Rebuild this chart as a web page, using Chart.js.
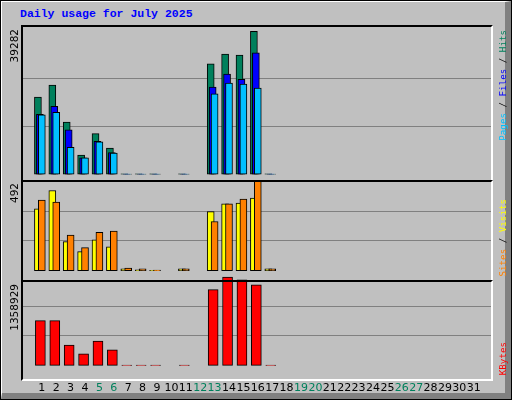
<!DOCTYPE html>
<html lang="en">
<head>
  <meta charset="UTF-8" />
  <title>Daily usage for July 2025</title>
  <script src="https://cdn.jsdelivr.net/npm/chart.js"></script>
  <style>
    * { box-sizing: border-box; }
    body { margin: 0; padding: 0; background: #c0c0c0; }
    .frame {
      position: absolute; left: 0; top: 0; width: 512px; height: 400px;
      border: 1px solid #000; background: #c0c0c0; overflow: hidden;
    }
    .bevel {
      position: absolute; left: 0; top: 0; width: 510px; height: 398px;
      border-top: 1px solid #fff; border-left: 1px solid #fff;
      border-right: 6px solid #808080; border-bottom: 6px solid #808080;
    }
    .title {
      position: absolute; left: 19px; top: 6px; color: #0000ff;
      font: bold 11.5px 'Liberation Mono', 'DejaVu Sans Mono', monospace;
    }
    .panel {
      position: absolute; left: 20px; width: 472px;
      border-top: 2px solid #000; border-left: 2px solid #000;
      border-right: 2px solid #fff; border-bottom: 2px solid #fff;
      pointer-events: none;
    }
    .vt {
      position: absolute; writing-mode: vertical-rl; transform: rotate(180deg);
      white-space: nowrap;
    }
    .ylab { font: 10.5px 'DejaVu Sans', sans-serif; color: #000; left: 7px; }
    .leg { font: 9.2px 'DejaVu Sans Mono', monospace; left: 496px; }
    #wrap { position: absolute; left: 21px; top: 26px; width: 470px; height: 374px; }
  </style>
</head>
<body>
  <div class="frame">
    <div class="bevel"></div>
    <div class="title">Daily usage for July 2025</div>
    <div id="wrap"><canvas id="grafico" width="470" height="374"></canvas></div>
    <div class="panel" style="top:24px;height:157px"></div>
    <div class="panel" style="top:179px;height:102px"></div>
    <div class="panel" style="top:279px;height:101px"></div>

    <div class="vt ylab" id="lab1" style="top:28px"></div>
    <div class="vt ylab" id="lab2" style="top:182px"></div>
    <div class="vt ylab" id="lab3" style="top:283px"></div>

    <div class="vt leg" style="top:29px"><span style="color:#00c0ff">Pages</span> / <span style="color:#0000ff">Files</span> / <span style="color:#00805c">Hits</span></div>
    <div class="vt leg" style="top:198px"><span style="color:#ff8000">Sites</span> / <span style="color:#ffff00">Visits</span></div>
    <div class="vt leg" style="top:341px"><span style="color:#ff0000">KBytes</span></div>
  </div>

  <script>
    const dias = [];
    for (let d = 1; d <= 31; d++) dias.push(d);
    const fimDeSemana = [5, 6, 12, 13, 19, 20, 26, 27];

    // valores (dias 1..17, resto sem dados)
    const hits   = [21190, 24500, 14350, 5260, 11140, 7130, 40, 40, 40, 0, 40, 0, 30380, 33050, 32790, 39282, 40];
    const files  = [16480, 18620, 12210, 4500, 9000, 5900, 30, 30, 30, 0, 30, 0, 23960, 27520, 26100, 33400, 30];
    const pages  = [16300, 17020, 7400, 4460, 8900, 5800, 30, 30, 30, 0, 30, 0, 22100, 25030, 24770, 23700, 30];
    const visits = [341, 442, 160, 105, 170, 132, 10, 5, 2, 0, 10, 0, 325, 368, 373, 400, 10];
    const sites  = [389, 378, 196, 127, 212, 218, 14, 10, 3, 0, 10, 0, 271, 368, 394, 492, 10];
    const kbytes = [687000, 687000, 313600, 179200, 373300, 239000, 3000, 3000, 3000, 0, 3000, 0, 1164800, 1358929, 1314200, 1239500, 3000];

    const maxHits = Math.max(...hits);
    const maxSites = Math.max(...sites, ...visits);
    const maxKb = Math.max(...kbytes);
    document.getElementById('lab1').textContent = maxHits;
    document.getElementById('lab2').textContent = maxSites;
    document.getElementById('lab3').textContent = maxKb;

    function pontos(valores, desloc) {
      return valores.map((v, i) => ({ x: i + 1 + desloc, y: v })).filter(p => p.y > 0);
    }

    function serie(label, valores, desloc, cor, eixo, largura) {
      return {
        label: label,
        data: pontos(valores, desloc),
        backgroundColor: cor,
        borderColor: '#000',
        borderWidth: 1,
        borderSkipped: false,
        barThickness: largura,
        grouped: false,
        yAxisID: eixo
      };
    }

    function eixoY(M, abaixo, altura, acima, peso) {
      return {
        type: 'linear',
        position: 'left',
        stack: 'painel',
        stackWeight: peso,
        min: -M * abaixo / altura,
        max: M * (1 + acima / altura),
        afterBuildTicks: s => { s.ticks = [{ value: M / 3 }, { value: 2 * M / 3 }]; },
        afterFit: s => { s.width = 0; },
        ticks: { display: false },
        border: { display: false },
        grid: { color: '#808080', lineWidth: 1, drawTicks: false }
      };
    }

    new Chart(document.getElementById('grafico').getContext('2d'), {
      type: 'bar',
      data: {
        datasets: [
          serie('Pages', pages, 0, '#00c0ff', 'y1', 7),
          serie('Files', files, -0.134, '#0000ff', 'y1', 7),
          serie('Hits', hits, -0.27, '#00805c', 'y1', 7),
          serie('Sites', sites, 0, '#ff8000', 'y2', 7),
          serie('Visits', visits, -0.27, '#ffff00', 'y2', 7),
          serie('KBytes', kbytes, -0.1, '#ff0000', 'y3', 10)
        ]
      },
      options: {
        responsive: false,
        animation: false,
        devicePixelRatio: 1,
        layout: { padding: 0 },
        plugins: { legend: { display: false }, tooltip: { enabled: false } },
        scales: {
          x: {
            type: 'linear',
            min: 0.15,
            max: 31.74,
            afterBuildTicks: s => { s.ticks = dias.map(d => ({ value: d })); },
            grid: { display: false },
            border: { display: false },
            ticks: {
              autoSkip: false,
              maxRotation: 0,
              padding: 6,
              font: { family: 'DejaVu Sans', size: 11 },
              color: ctx => fimDeSemana.includes(ctx.tick.value) ? '#00805c' : '#000'
            }
          },
          y3: eixoY(maxKb, 2.5, 91, 3.5, 97),
          y2: eixoY(maxSites, 3, 92, 4, 99),
          y1: eixoY(maxHits, 3.5, 147, 4.5, 155)
        }
      }
    });
  </script>
</body>
</html>
